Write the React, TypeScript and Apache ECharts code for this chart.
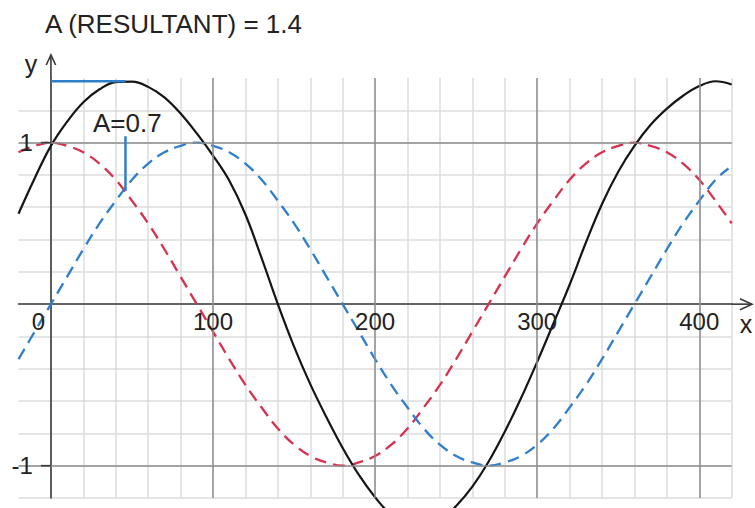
import React, { useEffect, useRef } from 'react';
import * as echarts from 'echarts';

const TITLE = 'A (RESULTANT) = 1.4';
const HALF_LABEL = 'A=0.7';
const X_NAME = 'x';
const Y_NAME = 'y';

// phase angle (x) samples
const angles = [
  -20, -10, 0, 10, 20, 30, 40, 50, 60, 70, 80, 90, 100, 110, 120, 130, 140, 150, 160, 170, 180,
  190, 200, 210, 220, 230, 240, 250, 260, 270, 280, 290, 300, 310, 320, 330, 340, 350, 360,
  370, 380, 390, 400, 410, 420,
];
// red dashed wave
const redWave = [
  0.94, 0.98, 1, 0.98, 0.94, 0.87, 0.77, 0.64, 0.5, 0.34, 0.17, 0, -0.17, -0.34, -0.5, -0.64,
  -0.77, -0.87, -0.94, -0.98, -1, -0.98, -0.94, -0.87, -0.77, -0.64, -0.5, -0.34, -0.17, 0,
  0.17, 0.34, 0.5, 0.64, 0.77, 0.87, 0.94, 0.98, 1, 0.98, 0.94, 0.87, 0.77, 0.64, 0.5,
];
// blue dashed wave
const blueAngles = [
  -20, -10, 0, 10, 20, 30, 40, 50, 60, 70, 80, 90, 100, 110, 120, 130, 140, 150, 160, 170, 180,
  190, 200, 210, 220, 230, 240, 250, 260, 270, 280, 290, 300, 310, 320, 330, 340, 350, 360,
  370, 380, 390, 400, 410, 418,
];
const blueWave = [
  -0.34, -0.17, 0, 0.17, 0.34, 0.5, 0.64, 0.77, 0.87, 0.94, 0.98, 1, 0.98, 0.94, 0.87, 0.77,
  0.64, 0.5, 0.34, 0.17, 0, -0.17, -0.34, -0.5, -0.64, -0.77, -0.87, -0.94, -0.98, -1, -0.98,
  -0.94, -0.87, -0.77, -0.64, -0.5, -0.34, -0.17, 0, 0.17, 0.34, 0.5, 0.64, 0.77, 0.84,
];
// black resultant wave
const resultantWave = [
  0.56, 0.78, 0.98, 1.13, 1.25, 1.33, 1.375, 1.377, 1.345, 1.28, 1.18, 1.057, 0.92, 0.765, 0.555,
  0.285, 0, -0.263, -0.495, -0.7, -0.89, -1.057, -1.195, -1.305, -1.367, -1.378, -1.339, -1.25,
  -1.13, -0.976, -0.79, -0.583, -0.357, -0.12, 0.12, 0.38, 0.62, 0.82, 0.98, 1.11, 1.21, 1.29,
  1.35, 1.38, 1.36,
];
// blue amplitude markers
const peakLineX = [0, 46];
const peakLineY = [1.38, 1.38];
const halfLineX = [46, 46];
const halfLineY = [0.7, 1.04];

const xLabelValues = [0, 100, 200, 300, 400];
const yLabelValues = [-1, 1];
const xMajorLines = [100, 200, 300, 400];
const yMajorLines = [-1, 1];

const zip = (xs: number[], ys: number[]) => xs.map((x, i) => [x, ys[i]]);

export default function App() {
  const ref = useRef<HTMLDivElement>(null);
  useEffect(() => {
    const chart = echarts.init(ref.current!, null, { renderer: 'svg' });
    const GRID = { left: 18.5, right: 23.3, top: 78, bottom: 10 };
    const FONT = '"Liberation Sans", Arial, sans-serif';
    const AXIS = '#3a3a3a';
    const LIGHT = '#dcdcdc';
    const MAJOR = '#8e8e8e';
    const RED = '#d8304f';
    const BLUE = '#2e7fcc';
    const TEXT = '#222';

    chart.setOption({
      animation: false,
      grid: { ...GRID, containLabel: false, outerBoundsMode: 'none' },
      xAxis: {
        type: 'value',
        min: -20,
        max: 420,
        interval: 20,
        axisLine: { onZero: true, lineStyle: { color: AXIS, width: 1.6 } },
        axisTick: { show: false },
        axisLabel: { show: false },
        splitLine: { show: true, showMinLine: false, lineStyle: { color: LIGHT, width: 1.5 } },
      },
      yAxis: {
        type: 'value',
        min: -1.2,
        max: 1.4,
        interval: 0.2,
        axisLine: { onZero: true, lineStyle: { color: AXIS, width: 1.6 } },
        axisTick: { show: false },
        axisLabel: { show: false },
        splitLine: { show: true, showMaxLine: false, lineStyle: { color: LIGHT, width: 1.5 } },
      },
      series: [
        {
          type: 'line',
          data: [],
          z: 1,
          markLine: {
            silent: true,
            symbol: ['none', 'none'],
            label: { show: false },
            lineStyle: { color: MAJOR, width: 1.5, type: 'solid' },
            data: [
              ...xMajorLines.map((v) => ({ xAxis: v })),
              ...yMajorLines.map((v) => ({ yAxis: v })),
            ],
          },
        },
        {
          type: 'line',
          data: zip(angles, redWave),
          symbol: 'none',
          smooth: 0.4,
          z: 3,
          lineStyle: { color: RED, width: 2.3, type: [12, 7] },
        },
        {
          type: 'line',
          data: zip(blueAngles, blueWave),
          symbol: 'none',
          smooth: 0.4,
          z: 3,
          lineStyle: { color: BLUE, width: 2.3, type: [12, 7] },
        },
        {
          type: 'line',
          data: zip(angles, resultantWave),
          symbol: 'none',
          smooth: 0.4,
          clip: false,
          z: 4,
          lineStyle: { color: '#151515', width: 2.2 },
        },
        {
          type: 'line',
          data: zip(peakLineX, peakLineY),
          symbol: 'none',
          z: 5,
          lineStyle: { color: BLUE, width: 2.5 },
        },
        {
          type: 'line',
          data: zip(halfLineX, halfLineY),
          symbol: 'none',
          z: 5,
          lineStyle: { color: BLUE, width: 2.5 },
        },
      ],
    });

    const px = (x: number, y: number) => chart.convertToPixel({ gridIndex: 0 }, [x, y]) as number[];
    const o = px(0, 0);
    const ox = o[0];
    const oy = o[1];
    const gridRightPx = chart.getWidth() - GRID.right;
    const gridTopPx = GRID.top;
    const xTip = 752;
    const yTip = 55;
    const lineStyle = { stroke: AXIS, lineWidth: 1.6, fill: null };
    const labelStyle = { fill: TEXT, fontSize: 24, fontFamily: FONT };

    const xLabels = xLabelValues.map((v) => {
      const p = px(v, 0);
      return {
        type: 'text',
        x: v === 0 ? p[0] - 12.5 : p[0],
        y: oy + 17,
        z: 10,
        style: { ...labelStyle, text: String(v), align: 'center', verticalAlign: 'middle' },
      };
    });
    const yLabels = yLabelValues.map((v) => {
      const p = px(0, v);
      return {
        type: 'text',
        x: ox - 18,
        y: p[1],
        z: 10,
        style: { ...labelStyle, text: String(v), align: 'right', verticalAlign: 'middle' },
      };
    });
    const yTicks = yLabelValues.map((v) => {
      const p = px(0, v);
      return { type: 'polyline', z: 10, shape: { points: [[ox - 10, p[1]], [ox, p[1]]] }, style: lineStyle };
    });

    chart.setOption({
      graphic: [
        { type: 'polyline', shape: { points: [[gridRightPx, oy], [xTip, oy]] }, style: lineStyle, z: 10 },
        { type: 'polyline', shape: { points: [[xTip - 12, oy - 5.5], [xTip, oy], [xTip - 12, oy + 5.5]] }, style: lineStyle, z: 10 },
        { type: 'polyline', shape: { points: [[ox, gridTopPx], [ox, yTip]] }, style: lineStyle, z: 10 },
        { type: 'polyline', shape: { points: [[ox - 4.7, yTip + 10], [ox, yTip], [ox + 4.7, yTip + 10]] }, style: lineStyle, z: 10 },
        ...yTicks,
        ...xLabels,
        ...yLabels,
        { type: 'text', x: 45, y: 24, z: 10, style: { text: TITLE, fill: TEXT, fontSize: 26, fontFamily: FONT, align: 'left', verticalAlign: 'middle' } },
        { type: 'text', x: ox - 20, y: 64, z: 10, style: { text: Y_NAME, fill: TEXT, fontSize: 25, fontFamily: FONT, align: 'center', verticalAlign: 'middle' } },
        { type: 'text', x: 746, y: oy + 20, z: 10, style: { text: X_NAME, fill: TEXT, fontSize: 25, fontFamily: FONT, align: 'center', verticalAlign: 'middle' } },
        { type: 'text', x: 93, y: 123, z: 10, style: { text: HALF_LABEL, fill: TEXT, fontSize: 26, fontFamily: FONT, align: 'left', verticalAlign: 'middle' } },
      ],
    });

    return () => chart.dispose();
  }, []);

  return <div ref={ref} style={{ position: 'absolute', left: 0, top: 0, width: 755, height: 508 }} />;
}
